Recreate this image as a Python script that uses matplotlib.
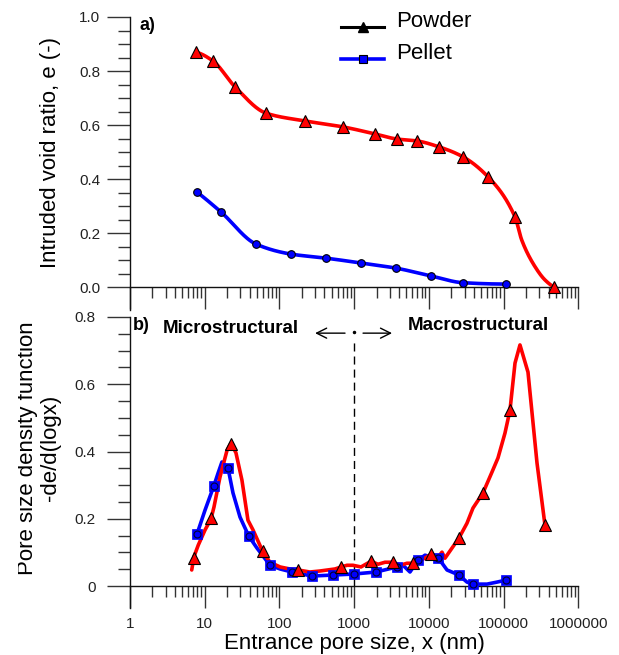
import numpy as np
import matplotlib
matplotlib.use("Agg")
import matplotlib.pyplot as plt
from matplotlib.lines import Line2D
from matplotlib.legend_handler import HandlerLine2D
from matplotlib.ticker import LogLocator, FixedLocator, FuncFormatter, NullFormatter
from matplotlib.transforms import Bbox, TransformedBbox, Affine2D

plt.rcParams["font.family"] = ["Liberation Sans", "DejaVu Sans"]

# ---------------- a) intruded void ratio ----------------
powder_a_x = [7.6, 12.9, 25.5, 66, 220, 710, 1900, 3750, 6950, 13700,
              28700, 62000, 142500, 474000]
powder_a_e = [0.870, 0.837, 0.741, 0.644, 0.615, 0.593, 0.567, 0.548, 0.541,
              0.519, 0.482, 0.408, 0.259, 0.0]
# extra readings of the powder curve in its steep tail
powder_tail_x = [175000, 264000, 359000]
powder_tail_e = [0.174, 0.075, 0.026]

pellet_a_x = [7.9, 16.5, 48.6, 143, 421, 1237, 3640, 10700, 28700, 108000]
pellet_a_e = [0.352, 0.278, 0.159, 0.122, 0.107, 0.089, 0.070, 0.041, 0.016, 0.011]

# ---------------- b) pore size density function ----------------
powder_b_line_x = [6.70, 7.19, 8.2, 10.1, 12.1, 13.3, 16.0, 19.9, 22.5, 26.2,
                   31.5, 37.9, 44.3, 60.3, 74.8, 102, 138, 177, 256, 349,
                   554, 667, 802, 965, 1235, 1680, 2085, 2588, 3311, 4108,
                   5097, 6131, 7608, 8873, 10670, 13240, 14990, 16430, 20380,
                   25300, 32360, 38930, 52970, 69940, 84140, 104400, 121800,
                   142200, 165700, 212200, 280100, 358200]
powder_b_line_y = [0.048, 0.088, 0.122, 0.167, 0.199, 0.235, 0.324, 0.404, 0.425,
                   0.396, 0.315, 0.196, 0.167, 0.101, 0.071, 0.057, 0.051, 0.048,
                   0.042, 0.045, 0.051, 0.057, 0.062, 0.062, 0.057, 0.074, 0.065,
                   0.071, 0.071, 0.062, 0.068, 0.068, 0.077, 0.083, 0.095, 0.086,
                   0.101, 0.083, 0.113, 0.143, 0.187, 0.232, 0.277, 0.339, 0.381,
                   0.455, 0.523, 0.663, 0.717, 0.636, 0.366, 0.181]
powder_b_pts_x = [7.19, 12.0, 22.5, 60.3, 177, 667, 1680, 3311, 6131, 10670,
                  25300, 52970, 121800, 358200]
powder_b_pts_y = [0.083, 0.202, 0.422, 0.104, 0.048, 0.057, 0.074, 0.071, 0.068,
                  0.095, 0.143, 0.277, 0.523, 0.181]

pellet_b_line_x = [7.89, 10.1, 13.2, 15.1, 17.0, 20.5, 23.9, 29.7, 38.8, 50.1,
                   74.8, 102, 147, 273, 521, 995, 1960, 3743, 4506, 5590, 7148,
                   8873, 11010, 13240, 17490, 25300, 32360, 38930, 59980, 81630,
                   107700]
pellet_b_line_y = [0.155, 0.226, 0.297, 0.336, 0.369, 0.351, 0.277, 0.205, 0.149,
                   0.113, 0.062, 0.051, 0.042, 0.030, 0.033, 0.036, 0.042, 0.057,
                   0.062, 0.042, 0.077, 0.092, 0.086, 0.085, 0.048, 0.033, 0.012,
                   0.006, 0.006, 0.012, 0.018]
pellet_b_pts_x = [7.89, 13.2, 20.5, 38.8, 74.8, 147, 273, 521, 995, 1960, 3743,
                  7148, 13240, 25300, 38930, 107700]
pellet_b_pts_y = [0.155, 0.297, 0.351, 0.149, 0.062, 0.042, 0.030, 0.033, 0.036,
                  0.042, 0.057, 0.077, 0.085, 0.033, 0.006, 0.018]

x_tick_values = [1, 10, 100, 1000, 10000, 100000, 1000000]

RED = "#ff0000"
BLUE = "#0000ff"
TICK_C = "#333333"


def smooth_log(x, y, n=40):
    """Monotone cubic (PCHIP) curve through the points, in log10(x)."""
    lx = np.log10(np.asarray(x, float))
    y = np.asarray(y, float)
    h = np.diff(lx)
    d = np.diff(y) / h
    m = np.zeros_like(y)
    for k in range(1, len(y) - 1):
        if d[k - 1] * d[k] <= 0:
            m[k] = 0.0
        else:
            w1 = 2 * h[k] + h[k - 1]
            w2 = h[k] + 2 * h[k - 1]
            m[k] = (w1 + w2) / (w1 / d[k - 1] + w2 / d[k])

    def end(h0, h1, d0, d1):
        s = ((2 * h0 + h1) * d0 - h0 * d1) / (h0 + h1)
        if np.sign(s) != np.sign(d0):
            s = 0.0
        elif np.sign(d0) != np.sign(d1) and abs(s) > abs(3 * d0):
            s = 3 * d0
        return s

    m[0] = end(h[0], h[1], d[0], d[1])
    m[-1] = end(h[-1], h[-2], d[-1], d[-2])
    xs, ys = [], []
    for k in range(len(h)):
        t = np.linspace(0, 1, n, endpoint=(k == len(h) - 1))
        h00 = 2 * t**3 - 3 * t**2 + 1
        h10 = t**3 - 2 * t**2 + t
        h01 = -2 * t**3 + 3 * t**2
        h11 = t**3 - t**2
        ys.append(h00 * y[k] + h10 * h[k] * m[k] + h01 * y[k + 1] + h11 * h[k] * m[k + 1])
        xs.append(lx[k] + t * h[k])
    return 10 ** np.concatenate(xs), np.concatenate(ys)


class BaselineLineHandler(HandlerLine2D):
    """Legend line sitting on the text baseline instead of mid-height."""

    def create_artists(self, legend, orig_handle, xdescent, ydescent, width,
                       height, fontsize, trans):
        shifted = Affine2D().translate(0, -0.35 * fontsize) + trans
        return super().create_artists(legend, orig_handle, xdescent, ydescent,
                                      width, height, fontsize, shifted)


W, H = 619, 655
fig = plt.figure(figsize=(W / 100, H / 100), dpi=100)

ax_a = fig.add_axes([130 / W, 1 - 310 / H, 448.3 / W, 293 / H])
ax_b = fig.add_axes([130 / W, 1 - 608 / H, 448.3 / W, 291 / H])
ax_a.set_ylim(-0.085, 1.0)
ax_b.set_ylim(-0.065, 0.8)

for ax in (ax_a, ax_b):
    ax.set_facecolor("none")
    ax.set_xscale("log")
    ax.set_xlim(1, 1e6)
    ax.xaxis.set_major_locator(FixedLocator(x_tick_values))
    ax.xaxis.set_minor_locator(LogLocator(base=10, subs=np.arange(2, 10), numticks=20))
    ax.xaxis.set_minor_formatter(NullFormatter())
    ax.spines["top"].set_visible(False)
    ax.spines["right"].set_visible(False)
    ax.spines["bottom"].set_position(("data", 0))
    for s in ("left", "bottom"):
        ax.spines[s].set_linewidth(1.0)
        ax.spines[s].set_color("#111111")
    ax.tick_params(axis="x", which="major", direction="out", length=15.5, width=1.0,
                   color=TICK_C, labelsize=11, labelcolor="#222222", pad=6.5)
    ax.tick_params(axis="x", which="minor", direction="out", length=8, width=1.0,
                   color=TICK_C)
    ax.tick_params(axis="y", which="major", direction="out", length=16.5, width=1.0,
                   color=TICK_C, labelsize=11, labelcolor="#222222")
    ax.tick_params(axis="y", which="minor", direction="out", length=8.6, width=1.0,
                   color=TICK_C)

ax_a.tick_params(axis="x", labelbottom=False)
ax_a.tick_params(axis="y", which="major", pad=5)
ax_b.tick_params(axis="y", which="major", pad=8)
ax_b.xaxis.set_major_formatter(FuncFormatter(lambda v, p: f"{int(round(v))}"))

ax_a.yaxis.set_major_locator(FixedLocator(np.round(np.arange(0, 1.0001, 0.2), 2)))
ax_a.yaxis.set_minor_locator(FixedLocator(np.round(np.arange(0, 1.0001, 0.05), 2)))
ax_a.yaxis.set_major_formatter(FuncFormatter(lambda v, p: f"{v:.1f}"))
ax_b.yaxis.set_major_locator(FixedLocator(np.round(np.arange(0, 0.8001, 0.2), 2)))
ax_b.yaxis.set_minor_locator(FixedLocator(np.round(np.arange(0, 0.8001, 0.05), 2)))
ax_b.yaxis.set_major_formatter(FuncFormatter(lambda v, p: f"{v:g}"))

# ---- panel a curves ----
px_line = powder_a_x[:-1] + powder_tail_x + powder_a_x[-1:]
pe_line = powder_a_e[:-1] + powder_tail_e + powder_a_e[-1:]
sx, sy = smooth_log(px_line, pe_line)
ax_a.plot(sx, sy, color=RED, lw=2.6, solid_capstyle="round", zorder=3)
bx, by = smooth_log(pellet_a_x, pellet_a_e)
ax_a.plot(bx, by, color=BLUE, lw=2.6, solid_capstyle="round", zorder=3)
ax_a.plot(powder_a_x, powder_a_e, ls="none", marker="^", ms=8, mfc=RED, mec="black",
          mew=0.8, zorder=4, clip_on=False)
ax_a.plot(pellet_a_x, pellet_a_e, ls="none", marker="o", ms=5.5, mfc=BLUE, mec="black",
          mew=0.8, zorder=4, clip_on=False)

ax_a.text(140 / W, 1 - 26 / H, "a)", transform=fig.transFigure, fontsize=13,
          fontweight="bold", ha="left", va="center")

legend_handles = [
    Line2D([], [], color="black", lw=2.2, marker="^", ms=7, mfc="black", mec="black"),
    Line2D([], [], color=BLUE, lw=2.6, marker="s", ms=6, mfc=BLUE, mec="black", mew=0.8),
]
ax_a.legend(legend_handles, ["Powder", "Pellet"], loc="upper left",
            bbox_to_anchor=(341 / W, 1 - 11 / H), bbox_transform=fig.transFigure,
            frameon=False, fontsize=16, handlelength=1.95, handletextpad=0.55,
            labelspacing=0.5, borderpad=0, borderaxespad=0,
            handler_map={Line2D: BaselineLineHandler()})

ax_a.set_ylabel("Intruded void ratio, e (-)", fontsize=16)
ax_a.yaxis.set_label_coords(61 / W, 1 - 152 / H, transform=fig.transFigure)

# ---- panel b curves ----
ax_b.plot(pellet_b_line_x, pellet_b_line_y, color=BLUE, lw=2.6,
          solid_joinstyle="round", solid_capstyle="round", zorder=3)
ax_b.plot(powder_b_line_x, powder_b_line_y, color=RED, lw=2.6,
          solid_joinstyle="round", solid_capstyle="round", zorder=4)
ax_b.plot(pellet_b_pts_x, pellet_b_pts_y, ls="none", marker="s", ms=7, mfc=BLUE,
          mec=BLUE, mew=0.5, zorder=5)
ax_b.plot(pellet_b_pts_x, pellet_b_pts_y, ls="none", marker="o", ms=5, mfc=BLUE,
          mec="#000033", mew=0.8, zorder=5)
ax_b.plot(powder_b_pts_x, powder_b_pts_y, ls="none", marker="^", ms=8, mfc=RED,
          mec="black", mew=0.8, zorder=6)

# boundary between micro- and macro-structural pores
ax_b.plot([1000, 1000], [0, 0.738], color="black", lw=1.0, dashes=(5.8, 3.6), zorder=2)
ax_b.plot([1000], [0.755], ls="none", marker="o", ms=1.5, color="black", zorder=2)
arrow_kw = dict(arrowstyle="->", lw=1.0, color="black", shrinkA=0, shrinkB=0,
                mutation_scale=18)
ax_b.annotate("", xy=(300, 0.752), xytext=(755, 0.752), arrowprops=arrow_kw)
ax_b.annotate("", xy=(3215, 0.752), xytext=(1315, 0.752), arrowprops=arrow_kw)
ax_b.text(2.77, 0.767, "Microstructural", fontsize=13.5, fontweight="bold",
          ha="left", va="center")
ax_b.text(5270, 0.776, "Macrostructural", fontsize=13.5, fontweight="bold",
          ha="left", va="center")
ax_b.text(133 / W, 1 - 326 / H, "b)", transform=fig.transFigure, fontsize=13,
          fontweight="bold", ha="left", va="center")

ax_b.set_xlabel("Entrance pore size, x (nm)", fontsize=16)
ax_b.xaxis.set_label_coords(354 / W, 1 - 632.5 / H, transform=fig.transFigure)

ax_b.set_ylabel("Pore size density function\n-de/d(logx)", fontsize=16,
                linespacing=1.12)
ax_b.yaxis.set_label_coords(61 / W, 1 - 448 / H, transform=fig.transFigure)
ax_b.yaxis.label.set_clip_box(TransformedBbox(Bbox([[18 / W, 0], [1, 1]]),
                                              fig.transFigure))
ax_b.yaxis.label.set_clip_on(True)

fig.savefig("out.png", dpi=100, facecolor="white")
